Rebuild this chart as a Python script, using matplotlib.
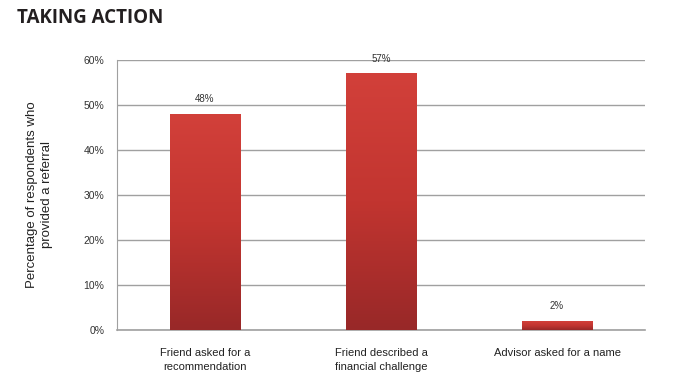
import matplotlib.pyplot as plt
import numpy as np
from matplotlib.colors import LinearSegmentedColormap

categories = ['Friend asked for a\nrecommendation',
              'Friend described a\nfinancial challenge',
              'Advisor asked for a name']
values = [48, 57, 2]
value_labels = ['48%', '57%', '2%']
yticks = [0, 10, 20, 30, 40, 50, 60]

plt.rcParams['font.family'] = ['Liberation Sans', 'DejaVu Sans']

fig = plt.figure(figsize=(6.92, 3.75), dpi=100)
ax = fig.add_axes([117 / 692, 45 / 375, 528 / 692, 270 / 375])

x = np.arange(len(categories))
bars = ax.bar(x, values, width=0.4, color='none', edgecolor='none', zorder=3)

# gradient fill for each bar
cmap = LinearSegmentedColormap.from_list('redgrad', ['#982828', '#c23530', '#d2403a'])
grad = np.linspace(0, 1, 256).reshape(-1, 1)
for b in bars:
    bx, by, bw, bh = b.get_x(), b.get_y(), b.get_width(), b.get_height()
    ax.imshow(grad, cmap=cmap, origin='lower', aspect='auto',
              extent=[bx, bx + bw, by, by + bh], zorder=3)

for xi, v, lab in zip(x, values, value_labels):
    ax.text(xi, v + 2.2, lab, ha='center', va='bottom', fontsize=7, color='#333333')

ax.set_xlim(-0.5, len(categories) - 0.5)
ax.set_ylim(0, 60)
ax.set_yticks(yticks)
ax.set_yticklabels([f'{t}%' for t in yticks], fontsize=7.5, color='#333333')
ax.set_xticks(x)
ax.set_xticklabels(categories, fontsize=8, color='#222222', linespacing=1.55)
ax.tick_params(axis='x', length=0, pad=13)
ax.tick_params(axis='y', length=0, pad=9)
ax.grid(axis='y', color='#a0a0a0', linewidth=1, zorder=0)
ax.set_axisbelow(True)
for s in ['top', 'right']:
    ax.spines[s].set_visible(False)
ax.spines['left'].set_color('#a0a0a0')
ax.spines['bottom'].set_color('#a0a0a0')
ax.spines['bottom'].set_linewidth(1.2)

ax.set_ylabel('Percentage of respondents who\nprovided a referral', fontsize=9.5,
              color='#222222', labelpad=22, linespacing=1.35)

fig.text(17 / 692, 1 - 18 / 375, 'TAKING ACTION', fontsize=13.5, fontweight='bold',
         family=['Open Sans', 'DejaVu Sans'], color='#231f20', va='center', ha='left')

fig.savefig('out.png', dpi=100)
